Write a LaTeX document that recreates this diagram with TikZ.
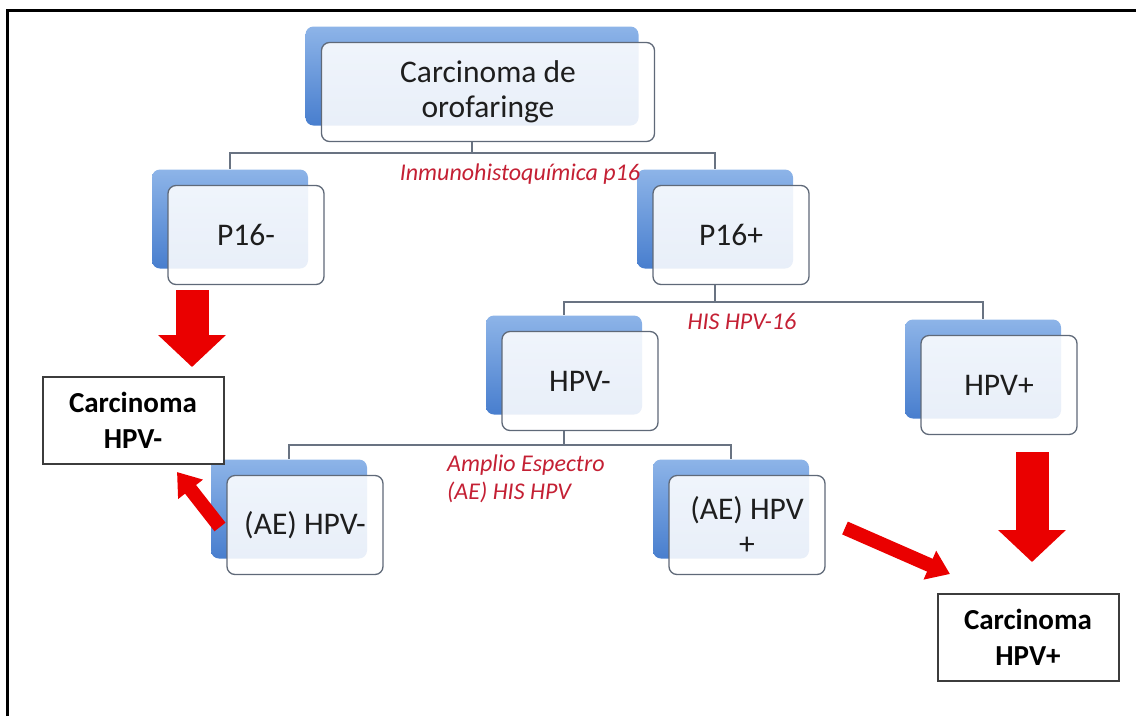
\documentclass[tikz,border=0pt]{standalone}
\usepackage{fontspec}
\setmainfont{Carlito}
\usetikzlibrary{
    arrows.meta,
    calc
}
\definecolor{cardblue}{RGB}{141,180,232}
\definecolor{cardblueD}{RGB}{72,126,206}
\definecolor{cardline}{RGB}{95,105,120}
\definecolor{connline}{RGB}{105,115,130}
\definecolor{labred}{RGB}{196,32,52}
\definecolor{arrred}{RGB}{234,0,0}

\tikzset{
    back/.style={rounded corners=8pt, minimum width=156pt, minimum height=99pt,
        inner sep=0pt, top color=cardblue, bottom color=cardblueD, draw=none},
    card/.style={rounded corners=8pt, minimum width=156pt, minimum height=99pt,
        inner sep=0pt, draw=cardline, line width=1.3pt, fill=white, fill opacity=0.88,
        text opacity=1, align=center, text={rgb,255:red,30;green,30;blue,30},
        font=\fontsize{31.5}{35}\selectfont},
    res/.style={draw={rgb,255:red,60;green,60;blue,60}, line width=2pt, fill=white,
        minimum width=181pt, minimum height=87pt, align=center,
        font=\fontsize{29}{36}\selectfont\bfseries},
    lab/.style={text=labred, inner sep=0pt, font=\fontsize{24}{28}\selectfont\itshape},
    conn/.style={draw=connline, line width=1.5pt},
    bigarrow/.style={draw=arrred, line width=33pt, -{Triangle[width=66pt,length=32pt]}},
    smallarrow/.style={draw=arrred, line width=14pt, -{Triangle[width=30pt,length=22pt]}}
}

\begin{document}
\begin{tikzpicture}[x=1pt,y=-1pt]
    \useasboundingbox (0,0) rectangle (1136,716);
    \draw[line width=3pt] (7,716) -- (7,10) -- (1136,10);

    % back boxes
    \node[back, minimum width=333pt] (topb) at (472,76) {};
    \node[back] (p16negb) at (230,219) {};
    \node[back] (p16posb) at (715,219) {};
    \node[back] (hpvnegb) at (564,365) {};
    \node[back] (hpvposb) at (983,369) {};
    \node[back] (aenegb) at (289,509) {};
    \node[back] (aeposb) at (731,509) {};

    % front boxes
    \node[card, minimum width=333pt] (top) at (488,92) {Carcinoma de\\orofaringe};
    \node[card] (p16neg) at (246,235) {P16-};
    \node[card] (p16pos) at (731,235) {P16+};
    \node[card] (hpvneg) at (580,381) {HPV-};
    \node[card] (hpvpos) at (999,385) {HPV+};
    \node[card] (aeneg) at (305,525) {(AE) HPV-};
    \node[card] (aepos) at (747,525) {(AE) HPV\\+};

    \node[res] (carcneg) at (133,420) {Carcinoma\\HPV-};
    \node[res] (carcpos) at (1028,637) {Carcinoma\\HPV+};

    \coordinate (bus1) at (0,153);
    \coordinate (bus2) at (0,302);
    \coordinate (bus3) at (0,445);

    \draw[conn] (topb.center |- top.south) -- (topb.center |- bus1) -| (p16negb.north);
    \draw[conn] (topb.center |- bus1) -| (p16posb.north);
    \draw[conn] (p16posb.center |- p16pos.south) -- (p16posb.center |- bus2) -| (hpvnegb.north);
    \draw[conn] (p16posb.center |- bus2) -| (hpvposb.north);
    \draw[conn] (hpvnegb.center |- hpvneg.south) -- (hpvnegb.center |- bus3) -| (aenegb.north);
    \draw[conn] (hpvnegb.center |- bus3) -| (aeposb.north);

    \node[lab] (labp16) at (520,174) {Inmunohistoquímica p16};
    \node[lab] (labhis) at (742,321) {HIS HPV-16};
    \node[lab, align=left, anchor=west] (labae) at (447,479) {Amplio Espectro\\(AE) HIS HPV};

    % red arrows
    \coordinate (a1s) at (192,290);
    \coordinate (a1e) at (192,367);
    \coordinate (a2s) at (1032,452);
    \coordinate (a2e) at (1032,562);
    \coordinate (a3s) at (845,528);
    \coordinate (a3e) at (950,574);
    \coordinate (a4s) at (220,527);
    \coordinate (a4e) at (177,472);
    \draw[bigarrow] (a1s) -- (a1e);
    \draw[bigarrow] (a2s) -- (a2e);
    \draw[smallarrow] (a3s) -- (a3e);
    \draw[smallarrow] (a4s) -- (a4e);
\end{tikzpicture}
\end{document}
